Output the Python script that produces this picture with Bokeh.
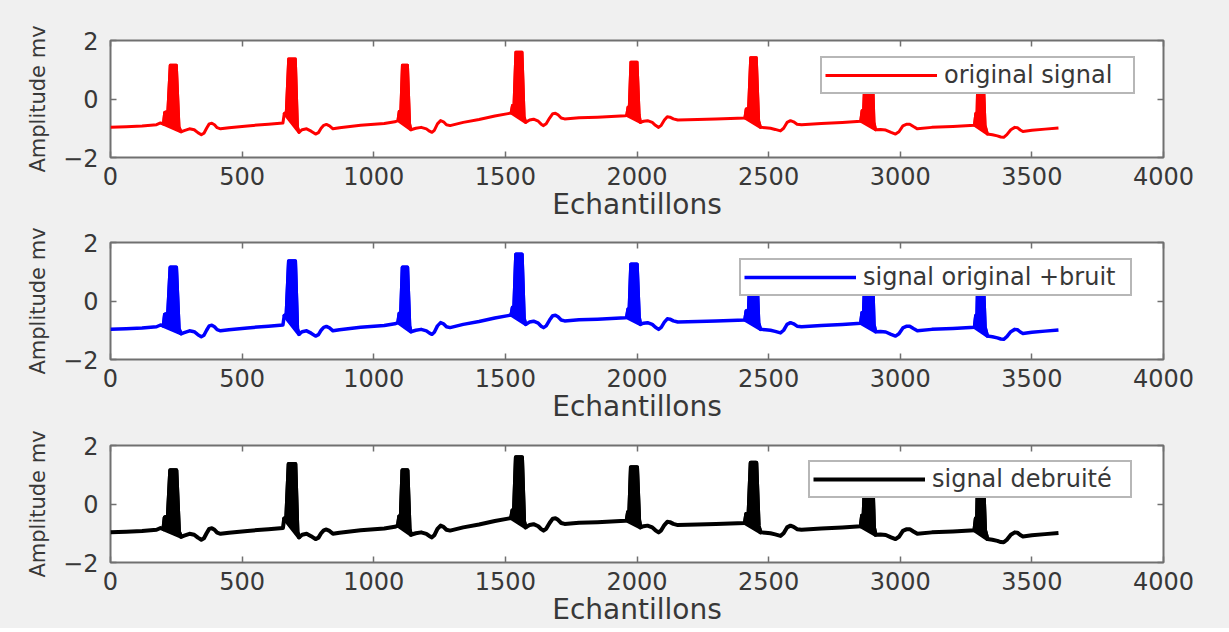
from bokeh.plotting import figure
from bokeh.layouts import column
from bokeh.models import LinearAxis, FixedTicker, Range1d, Legend, LegendItem
from bokeh.embed import file_html
from bokeh.resources import INLINE

# ---- data (ECG trace, sample index vs amplitude in mV) ----
sample_x = [0, 60, 120, 175, 190, 201, 206, 218, 227, 250, 260, 268, 280, 300, 318, 332, 345, 355, 365, 375,
            385, 395, 405, 418, 450, 520, 600, 655,
            660, 668, 677, 702, 710, 716, 728, 745, 762, 779, 790, 800, 810, 820, 832, 845, 870, 950, 1040, 1080,
            1092, 1097, 1103, 1109, 1128, 1136, 1141, 1160, 1180, 1200, 1212, 1221, 1230, 1242, 1254, 1265, 1276,
            1290, 1340, 1400, 1460, 1510,
            1522, 1527, 1533, 1540, 1563, 1571, 1577, 1592, 1607, 1625, 1636, 1645, 1655, 1668, 1680, 1690, 1700,
            1712, 1725, 1780, 1850, 1955,
            1961, 1966, 1971, 1977, 2000, 2008, 2013, 2025, 2040, 2058, 2070, 2082, 2092, 2104, 2115, 2125, 2138,
            2155, 2230, 2300, 2410,
            2415, 2424, 2432, 2453, 2462, 2469, 2488, 2507, 2525, 2545, 2557, 2570, 2583, 2595, 2608, 2625, 2700,
            2780, 2850,
            2855, 2861, 2868, 2893, 2900, 2906, 2925, 2945, 2965, 2982, 2995, 3010, 3025, 3036, 3050, 3065, 3120,
            3200, 3282,
            3287, 3292, 3296, 3313, 3322, 3331, 3350, 3369, 3382, 3393, 3405, 3420, 3435, 3445, 3456, 3466, 3500,
            3550, 3601]
amp_mv = [-0.97, -0.95, -0.92, -0.88, -0.82, -0.86, -0.46, -0.42, 1.15, 1.15, -0.95, -1.12, -1.08, -1.02, -1.05,
          -1.15, -1.22, -1.17, -1.0, -0.85, -0.83, -0.88, -0.98, -1.02, -0.98, -0.92, -0.86, -0.82,
          -0.5, -0.45, 1.37, 1.37, -0.95, -1.14, -1.05, -1.02, -1.1, -1.2, -1.15, -1.0, -0.9, -0.87, -0.92, -1.02,
          -0.98, -0.9, -0.84, -0.78,
          -0.74, -0.42, -0.4, 1.15, 1.15, -0.85, -1.05, -1.0, -0.97, -1.02, -1.1, -1.14, -1.07, -0.85, -0.74,
          -0.78, -0.88, -0.91, -0.8, -0.7, -0.58, -0.5,
          -0.48, -0.22, -0.2, 1.6, 1.6, -0.6, -0.8, -0.72, -0.69, -0.76, -0.86, -0.91, -0.85, -0.65, -0.5, -0.49,
          -0.54, -0.65, -0.68, -0.64, -0.62, -0.57,
          -0.56, -0.28, -0.26, 1.26, 1.26, -0.55, -0.8, -0.76, -0.74, -0.8, -0.9, -0.97, -0.9, -0.72, -0.61,
          -0.62, -0.68, -0.72, -0.7, -0.68, -0.65,
          -0.34, -0.32, 1.41, 1.41, -0.75, -0.97, -0.98, -1.0, -1.04, -1.09, -1.0, -0.8, -0.74, -0.78, -0.86,
          -0.88, -0.84, -0.8, -0.76,
          -0.4, -0.38, 1.3, 1.3, -0.8, -1.05, -1.04, -1.06, -1.14, -1.2, -1.12, -0.92, -0.86, -0.86, -0.94,
          -1.02, -0.97, -0.94, -0.9,
          -0.5, -0.45, 1.3, 1.3, -0.9, -1.2, -1.22, -1.26, -1.3, -1.31, -1.22, -1.05, -0.97, -0.98, -1.06,
          -1.11, -1.07, -1.03, -0.99]
qrs_start = [201, 660, 1092, 1522, 1961, 2410, 2850, 3282]
qrs_end = [268, 716, 1141, 1577, 2013, 2469, 2906, 3331]

x_ticks = [0, 500, 1000, 1500, 2000, 2500, 3000, 3500, 4000]
y_ticks = [-2, 0, 2]
series_labels = ["original signal", "signal original +bruit", "signal debruité"]
series_colors = ["#ff0000", "#0000ff", "#000000"]
x_title = "Echantillons"
y_title = "Amplitude mv"

BG = "#f0f0f0"
FRAME = "#707070"
TXT = "#383838"


def make_panel(idx, top_border, bottom_border, line_w, legend_xy, label_w):
    color = series_colors[idx]
    p = figure(frame_width=1053, frame_height=117, output_backend="svg",
               toolbar_location=None, x_range=Range1d(0, 4000), y_range=Range1d(-2, 2),
               min_border_left=110, min_border_right=66,
               min_border_top=top_border, min_border_bottom=bottom_border)
    p.background_fill_color = "white"
    p.border_fill_color = BG
    p.outline_line_color = FRAME
    p.outline_line_width = 2
    p.xgrid.visible = False
    p.ygrid.visible = False

    # QRS complexes drawn filled, as in the reference
    xs, ys = [], []
    for a, b in zip(qrs_start, qrs_end):
        xs.append([x for x in sample_x if a <= x <= b])
        ys.append([y for x, y in zip(sample_x, amp_mv) if a <= x <= b])
    p.patches(xs, ys, fill_color=color, line_color=color, line_width=line_w, line_join="round")
    r = p.line(sample_x, amp_mv, line_color=color, line_width=line_w, line_join="round")

    for ax in (p.xaxis[0], p.yaxis[0]):
        ax.axis_line_color = None
        ax.major_tick_in = 6
        ax.major_tick_out = 0
        ax.minor_tick_in = 0
        ax.minor_tick_out = 0
        ax.major_tick_line_color = FRAME
        ax.major_tick_line_width = 1.5
        ax.major_label_text_font = "DejaVu Sans"
        ax.major_label_text_font_size = "24px"
        ax.major_label_text_color = TXT
    p.xaxis[0].ticker = FixedTicker(ticks=x_ticks)
    p.yaxis[0].ticker = FixedTicker(ticks=y_ticks)
    p.xaxis[0].major_label_standoff = 9
    p.yaxis[0].major_label_standoff = 12
    p.xaxis[0].axis_label = x_title
    p.xaxis[0].axis_label_text_font = "DejaVu Sans"
    p.xaxis[0].axis_label_text_font_style = "normal"
    p.xaxis[0].axis_label_text_font_size = "28px"
    p.xaxis[0].axis_label_text_color = TXT
    p.xaxis[0].axis_label_standoff = 0
    p.yaxis[0].axis_label = y_title
    p.yaxis[0].axis_label_text_font = "DejaVu Sans"
    p.yaxis[0].axis_label_text_font_style = "normal"
    p.yaxis[0].axis_label_text_font_size = "21px"
    p.yaxis[0].axis_label_text_color = TXT
    p.yaxis[0].axis_label_standoff = 10

    top = LinearAxis(ticker=FixedTicker(ticks=x_ticks))
    right = LinearAxis(ticker=FixedTicker(ticks=y_ticks))
    for ax in (top, right):
        ax.axis_line_color = None
        ax.major_tick_in = 6
        ax.major_tick_out = 0
        ax.minor_tick_in = 0
        ax.minor_tick_out = 0
        ax.major_tick_line_color = FRAME
        ax.major_tick_line_width = 1.5
        ax.major_label_text_font_size = "1px"
        ax.major_label_text_alpha = 0
        ax.major_label_standoff = 0
    p.add_layout(top, "above")
    p.add_layout(right, "right")

    leg = Legend(items=[LegendItem(label=series_labels[idx], renderers=[r])],
                 location=legend_xy)
    leg.margin = 0
    leg.padding = 3
    leg.glyph_width = 112
    leg.glyph_height = 20
    leg.label_standoff = 7
    leg.label_width = label_w
    leg.label_text_font = "DejaVu Sans"
    leg.label_text_font_size = "24px"
    leg.label_text_color = TXT
    leg.border_line_color = FRAME
    leg.border_line_width = 2
    leg.background_fill_color = "white"
    leg.background_fill_alpha = 1
    p.add_layout(leg)
    return p


p1 = make_panel(0, 40, 64, 3, (710, 63), 186)
p2 = make_panel(1, 19, 64, 3.5, (629, 63), 264)
p3 = make_panel(2, 20, 64, 4, (698, 64), 195)

layout = column(p1, p2, p3, spacing=0, background=BG)
open("out.html", "w").write(file_html(layout, INLINE))
